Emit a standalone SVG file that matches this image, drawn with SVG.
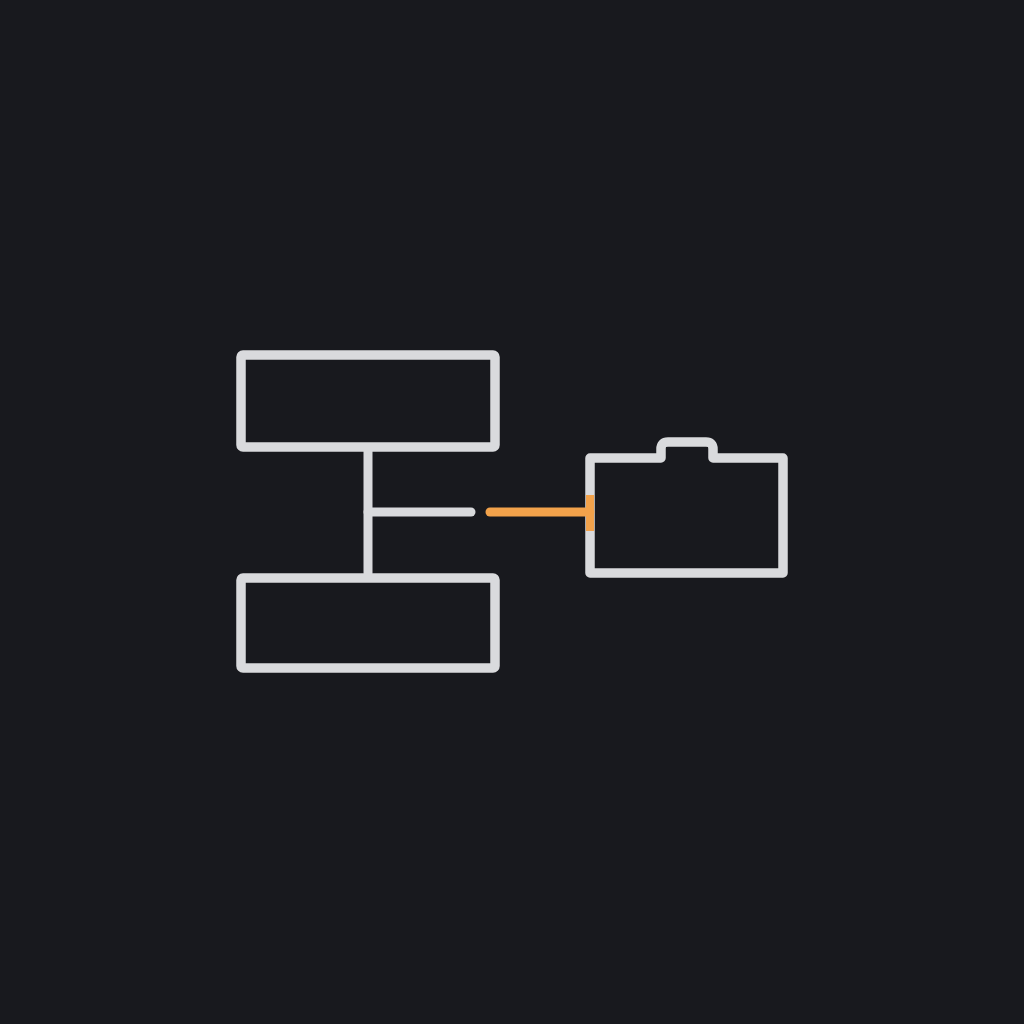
<svg xmlns="http://www.w3.org/2000/svg" width="1024" height="1024" viewBox="0 0 1024 1024">
<style>
.n{fill:none;stroke:#d9dadd;stroke-width:9.5;stroke-linejoin:round}
.c{fill:none;stroke:#d9dadd;stroke-width:9;stroke-linecap:round}
</style>
<rect width="1024" height="1024" fill="#18191e"/>
<g id="top"><rect class="n" x="241" y="355" width="254" height="92" rx="2"/></g>
<g id="bottom"><rect class="n" x="241" y="578" width="254" height="90" rx="2"/></g>
<g id="folder"><path class="n" d="M590 458 H661 V449 Q661 442 668 442 H706 Q713 442 713 449 V458 H783 V573 H590 Z"/></g>
<g id="connectors">
<path class="c" d="M368 451 V573" stroke-linecap="butt"/>
<path class="c" d="M368 512 H471"/>
<path d="M490 512 H590" stroke="#f2a24b" stroke-width="9" stroke-linecap="round" fill="none"/>
<rect x="586" y="495" width="8" height="36" fill="#f2a24b"/>
</g>
</svg>
